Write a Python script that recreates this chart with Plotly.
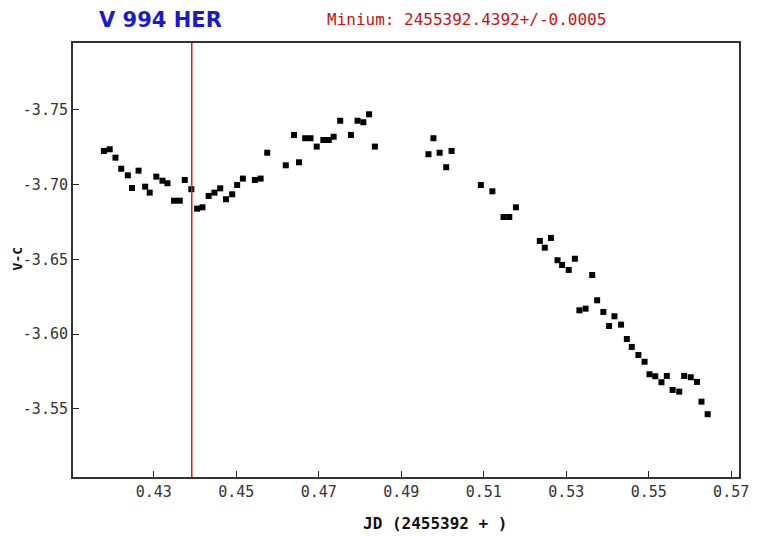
import plotly.graph_objects as go

# Data (JD - 2455392, V-C)
jd = [0.4179, 0.4193, 0.4207, 0.4221, 0.4237, 0.4247, 0.4263, 0.4279, 0.4290, 0.4306,
      0.4321, 0.4333, 0.4349, 0.4363, 0.4375, 0.4391, 0.4405, 0.4418, 0.4433, 0.4447,
      0.4461, 0.4475, 0.4490, 0.4502, 0.4516, 0.4545, 0.4559, 0.4575, 0.4620, 0.4640,
      0.4652, 0.4667, 0.4680, 0.4695, 0.4711, 0.4724, 0.4736, 0.4752, 0.4778, 0.4794,
      0.4808, 0.4822, 0.4836, 0.4966, 0.4978, 0.4993, 0.5009, 0.5022, 0.5093, 0.5121,
      0.5148, 0.5162, 0.5178, 0.5236, 0.5248, 0.5263, 0.5279, 0.5290, 0.5306, 0.5321,
      0.5332, 0.5347, 0.5363, 0.5375, 0.5390, 0.5404, 0.5417, 0.5433, 0.5447, 0.5459,
      0.5475, 0.5490, 0.5502, 0.5516, 0.5531, 0.5544, 0.5558, 0.5574, 0.5586, 0.5602,
      0.5617, 0.5628, 0.5643]
vc = [-3.7226, -3.7237, -3.7181, -3.7107, -3.7063, -3.6978, -3.7094, -3.6987, -3.6947, -3.7054,
      -3.7027, -3.7010, -3.6893, -3.6893, -3.7032, -3.6970, -3.6840, -3.6849, -3.6925, -3.6947,
      -3.6976, -3.6903, -3.6936, -3.6998, -3.7041, -3.7032, -3.7041, -3.7214, -3.7130, -3.7333,
      -3.7150, -3.7311, -3.7311, -3.7255, -3.7299, -3.7299, -3.7321, -3.7428, -3.7333, -3.7428,
      -3.7418, -3.7471, -3.7255, -3.7204, -3.7311, -3.7214, -3.7117, -3.7226, -3.6998, -3.6956,
      -3.6784, -3.6784, -3.6849, -3.6624, -3.6579, -3.6644, -3.6495, -3.6463, -3.6430, -3.6505,
      -3.6160, -3.6171, -3.6396, -3.6227, -3.6149, -3.6055, -3.6120, -3.6064, -3.5968, -3.5915,
      -3.5861, -3.5816, -3.5732, -3.5719, -3.5679, -3.5721, -3.5627, -3.5616, -3.5721, -3.5712,
      -3.5681, -3.5549, -3.5465]

minimum_jd = 0.4392
title_text = "V 994 HER"
minimum_text = "Minium: 2455392.4392+/-0.0005"
x_title = "JD (2455392 + )"
y_title = "V-C"
x_tickvals = [0.43, 0.45, 0.47, 0.49, 0.51, 0.53, 0.55, 0.57]
x_ticktext = ["0.43", "0.45", "0.47", "0.49", "0.51", "0.53", "0.55", "0.57"]
y_tickvals = [-3.75, -3.70, -3.65, -3.60, -3.55]
y_ticktext = ["-3.75", "-3.70", "-3.65", "-3.60", "-3.55"]
x_range = [0.4104, 0.5719]
y_range = [-3.5045, -3.7948]

tick_font = dict(family="DejaVu Sans Mono", size=15, color="#333333")

fig = go.Figure()
fig.add_trace(go.Scatter(
    x=jd, y=vc, mode="markers",
    marker=dict(symbol="square", size=6, color="black", line=dict(width=0)),
    showlegend=False, hoverinfo="x+y"))

fig.add_shape(type="line", xref="x", yref="paper", x0=minimum_jd, x1=minimum_jd,
              y0=0, y1=1, line=dict(color="#cc2222", width=1.5))

fig.update_xaxes(range=x_range, tickvals=x_tickvals, ticktext=x_ticktext,
                 ticks="inside", ticklen=6, tickcolor="#222", tickwidth=1,
                 showgrid=False, zeroline=False, showline=True, mirror=True,
                 linecolor="#333333", linewidth=2, tickfont=tick_font)
fig.update_yaxes(range=y_range, tickvals=y_tickvals, ticktext=y_ticktext,
                 ticks="inside", ticklen=6, tickcolor="#222", tickwidth=1,
                 showgrid=False, zeroline=False, showline=True, mirror=True,
                 linecolor="#333333", linewidth=2, tickfont=tick_font)

fig.add_annotation(text="<b>" + title_text + "</b>", xref="paper", yref="paper",
                   x=0.0356, y=1.053, xanchor="left", yanchor="middle", showarrow=False,
                   font=dict(family="DejaVu Sans", size=21, color="#1a1acc"))
fig.add_annotation(text=minimum_text, xref="paper", yref="paper", x=0.378, y=1.053,
                   xanchor="left", yanchor="middle", showarrow=False,
                   font=dict(family="DejaVu Sans Mono", size=16, color="#cc1111"))
fig.add_annotation(text="<b>" + x_title + "</b>", xref="paper", yref="paper",
                   x=0.545, y=-0.106, xanchor="center", yanchor="middle", showarrow=False,
                   font=dict(family="DejaVu Sans Mono", size=16, color="#111111"))
fig.add_annotation(text="<b>" + y_title + "</b>", xref="paper", yref="paper",
                   x=-0.083, y=0.503, xanchor="center", yanchor="middle", showarrow=False,
                   textangle=-90, font=dict(family="DejaVu Sans Mono", size=13, color="#111111"))

fig.update_layout(width=761, height=536, margin=dict(l=73, r=14, t=43, b=59),
                  plot_bgcolor="white", paper_bgcolor="white")

fig.write_html("out.html", config={"displayModeBar": False},
               post_script="document.body.style.margin='0';document.body.style.overflow='hidden';")
